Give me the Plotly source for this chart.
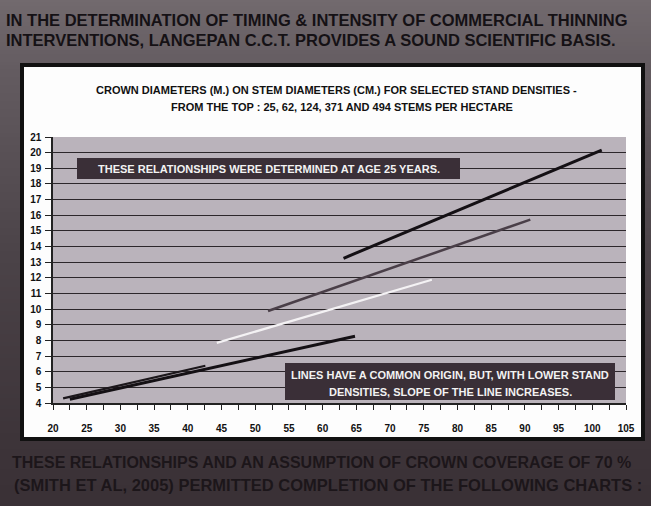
import base64
import struct
import zlib

import numpy as np
import plotly.graph_objects as go

# Crown diameter (m) against stem diameter (cm), one straight line per stand density
densities = ["25", "62", "124", "371", "494"]
stem_25 = [63.1, 101.4]
crown_25 = [13.25, 20.16]
stem_62 = [51.9, 90.8]
crown_62 = [9.88, 15.72]
stem_124 = [44.3, 76.2]
crown_124 = [7.84, 11.88]
stem_371 = [21.5, 42.6]
crown_371 = [4.30, 6.38]
stem_494 = [22.5, 64.8]
crown_494 = [4.24, 8.27]

x_ticks = list(range(20, 106, 5))
y_ticks = list(range(4, 22))

W, H = 651, 506
L, R, T, B = 53, 25, 137, 103
PW, PH = W - L - R, H - T - B


def fx(px):
    return (px - L) / PW


def fy(py):
    return (H - B - py) / PH


def png_uri(arr):
    h, w, _ = arr.shape
    raw = b"".join(b"\x00" + arr[i].tobytes() for i in range(h))

    def chunk(tag, data):
        c = struct.pack(">I", len(data)) + tag + data
        return c + struct.pack(">I", zlib.crc32(tag + data) & 0xFFFFFFFF)

    png = b"\x89PNG\r\n\x1a\n"
    png += chunk(b"IHDR", struct.pack(">IIBBBBB", w, h, 8, 2, 0, 0, 0))
    png += chunk(b"IDAT", zlib.compress(raw, 9))
    png += chunk(b"IEND", b"")
    return "data:image/png;base64," + base64.b64encode(png).decode()


# slate backdrop: lighter at the top, darker towards the bottom
stops_y = np.array([0.0, 0.14, 0.5, 0.86, 1.0])
stops_c = np.array([[114, 106, 110], [100, 92, 97], [76, 68, 73], [62, 53, 58], [58, 49, 54]])
ys = np.linspace(0, 1, 128)
col = np.stack([np.interp(ys, stops_y, stops_c[:, k]) for k in range(3)], axis=1)
bg = np.repeat(col[:, None, :], 8, axis=1).astype(np.uint8)

fig = go.Figure()

styles = {
    "25": dict(color="#141014", width=3),
    "62": dict(color="#4a3f48", width=2.5),
    "124": dict(color="#f4f2f4", width=2.2),
    "371": dict(color="#1c171b", width=2.2),
    "494": dict(color="#141014", width=3),
}
series = {
    "25": (stem_25, crown_25),
    "62": (stem_62, crown_62),
    "124": (stem_124, crown_124),
    "371": (stem_371, crown_371),
    "494": (stem_494, crown_494),
}
for d in densities:
    xs, ys_ = series[d]
    fig.add_trace(go.Scatter(x=xs, y=ys_, mode="lines", line=styles[d],
                             name=d + " stems/ha", showlegend=False))

shapes = [
    # white chart panel with black frame
    dict(type="rect", xref="paper", yref="paper", x0=fx(22), x1=fx(643), y0=fy(65), y1=fy(439),
         fillcolor="#fdfdfd", line=dict(color="#111", width=4), layer="below"),
    # lavender plot area
    dict(type="rect", xref="paper", yref="paper", x0=0, x1=1, y0=0, y1=1,
         fillcolor="#bab3bb", line=dict(width=0), layer="below"),
    # note boxes
    dict(type="rect", xref="paper", yref="paper", x0=fx(77), x1=fx(460), y0=fy(158), y1=fy(179),
         fillcolor="#3a2f37", line=dict(width=0), layer="above"),
    dict(type="rect", xref="paper", yref="paper", x0=fx(285), x1=fx(615), y0=fy(363), y1=fy(400),
         fillcolor="#3a2f37", line=dict(width=0), layer="above"),
]

head_font = dict(family="Liberation Sans, Arial", size=16.5, color="#151115", weight="bold")
foot_font_1 = dict(family="Liberation Sans, Arial", size=16, color="#1c161a", weight="bold")
foot_font_2 = dict(family="Liberation Sans, Arial", size=16.5, color="#1c161a", weight="bold")
title_font = dict(family="Liberation Sans, Arial", size=11, color="#111", weight="bold")
note_font = dict(family="Liberation Sans, Arial", size=11, color="#f2f2f2", weight="bold")

annotations = [
    dict(text="IN THE DETERMINATION OF TIMING &amp; INTENSITY OF COMMERCIAL THINNING",
         x=fx(4), y=fy(20), xanchor="left", yanchor="middle", font=head_font),
    dict(text="INTERVENTIONS, LANGEPAN C.C.T. PROVIDES A SOUND SCIENTIFIC BASIS.",
         x=fx(4), y=fy(40), xanchor="left", yanchor="middle", font=head_font),
    dict(text="CROWN DIAMETERS (M.) ON STEM DIAMETERS (CM.) FOR SELECTED STAND DENSITIES -",
         x=fx(336), y=fy(90), xanchor="center", yanchor="middle", font=title_font),
    dict(text="FROM THE TOP : 25, 62, 124, 371 AND 494 STEMS PER HECTARE",
         x=fx(342), y=fy(107), xanchor="center", yanchor="middle", font=title_font),
    dict(text="THESE RELATIONSHIPS WERE DETERMINED AT AGE 25 YEARS.",
         x=fx(269), y=fy(169), xanchor="center", yanchor="middle", font=note_font),
    dict(text="LINES HAVE A COMMON ORIGIN, BUT, WITH LOWER STAND",
         x=fx(450), y=fy(375), xanchor="center", yanchor="middle", font=note_font),
    dict(text="DENSITIES, SLOPE OF THE LINE INCREASES.",
         x=fx(450), y=fy(392), xanchor="center", yanchor="middle", font=note_font),
    dict(text="THESE RELATIONSHIPS AND AN ASSUMPTION OF CROWN COVERAGE OF 70 %",
         x=fx(10), y=fy(462), xanchor="left", yanchor="middle", font=foot_font_1),
    dict(text="(SMITH ET AL, 2005) PERMITTED COMPLETION OF THE FOLLOWING CHARTS :",
         x=fx(12), y=fy(485), xanchor="left", yanchor="middle", font=foot_font_2),
]
for a in annotations:
    a.update(xref="paper", yref="paper", showarrow=False)

tick_font = dict(family="Liberation Sans, Arial", size=10, color="#111", weight="bold")

fig.update_layout(
    width=W, height=H,
    margin=dict(l=L, r=R, t=T, b=B, pad=0),
    paper_bgcolor="#4f464b",
    plot_bgcolor="#bab3bb",
    shapes=shapes,
    annotations=annotations,
    images=[dict(source=png_uri(bg), xref="paper", yref="paper", x=fx(0), y=fy(0),
                 sizex=fx(W) - fx(0), sizey=fy(0) - fy(H), sizing="stretch",
                 xanchor="left", yanchor="top", layer="below")],
    xaxis=dict(range=[20, 105], tickvals=x_ticks, ticktext=[str(v) for v in x_ticks],
               showgrid=False, zeroline=False, showline=True, linecolor="#222", linewidth=1.5,
               ticks="outside", ticklen=5, tickcolor="#222", tickwidth=1.2,
               minor=dict(dtick=2.5, tick0=20, ticks="outside", ticklen=5, tickcolor="#222", showgrid=False),
               tickfont=tick_font, ticklabelstandoff=10),
    yaxis=dict(range=[4, 21], tickvals=y_ticks, ticktext=[str(v) for v in y_ticks],
               showgrid=True, gridcolor="#2c272b", gridwidth=1.3, zeroline=False,
               showline=True, linecolor="#222", linewidth=1.5,
               ticks="outside", ticklen=6, tickcolor="#222", tickwidth=1.2,
               tickfont=tick_font, ticklabelstandoff=2),
)

fig.write_html("out.html")
